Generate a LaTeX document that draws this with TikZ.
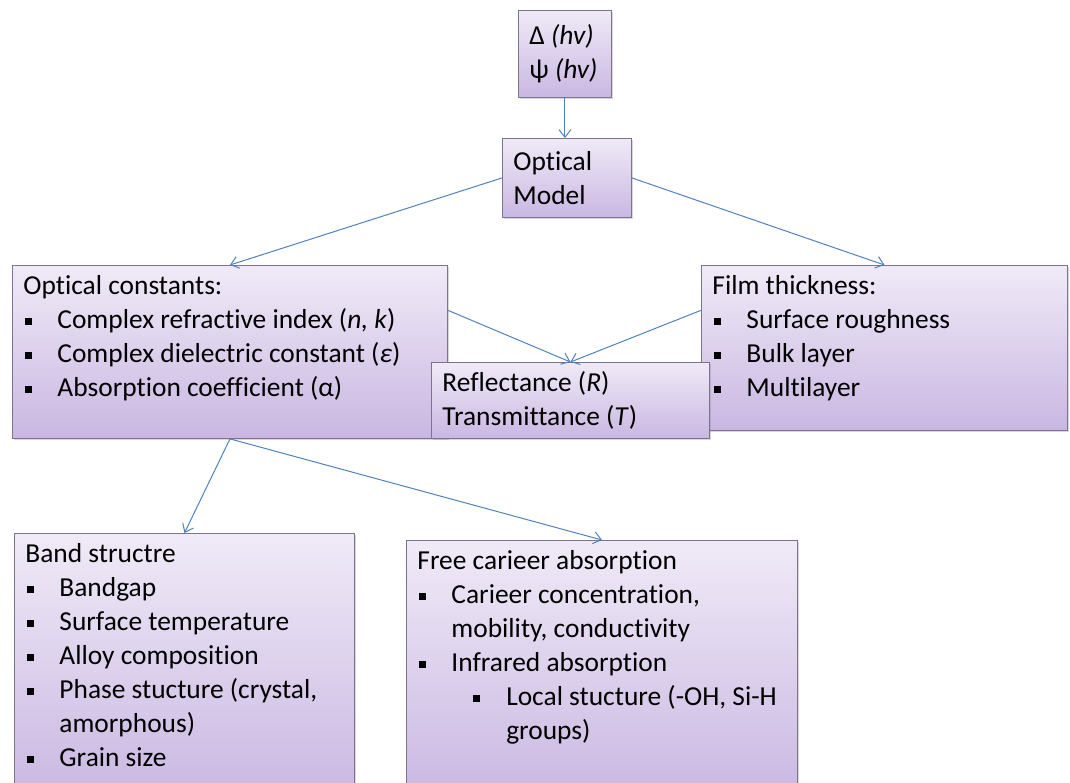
\documentclass[tikz,border=0pt]{standalone}
\usepackage{fontspec}
\setmainfont{Carlito}[Ligatures=NoCommon]
\usetikzlibrary{arrows.meta,shadows}

\definecolor{boxtop}{RGB}{240,234,247}
\definecolor{boxbot}{RGB}{201,183,226}
\definecolor{boxline}{RGB}{125,115,140}
\definecolor{linkblue}{RGB}{79,129,189}

\newcommand{\sqbul}{\rule[0.12em]{0.26em}{0.26em}}
\newcommand{\itm}{\makebox[1.24em][l]{\hspace{0.07em}\sqbul}}
\newcommand{\subitm}{\hspace*{2.04em}\makebox[1.2em][l]{\sqbul}}
\newcommand{\cont}{\hspace*{1.24em}}
\newcommand{\subcont}{\hspace*{3.24em}}
\newcommand{\boxbody}[3]{\parbox[c][#1][t]{#2}{\raggedright #3}}
\newcommand{\midbody}[3]{\parbox[c][#1][c]{#2}{\raggedright #3}}

\tikzset{
  panel/.style={draw=boxline, line width=0.6pt, top color=boxtop, bottom color=boxbot,
    anchor=north west, inner xsep=0.275cm, inner ysep=0.25cm,
    font=\fontsize{19.5}{24.2}\selectfont,
    drop shadow={shadow xshift=0.03cm, shadow yshift=-0.05cm, opacity=0.3}},
  link/.style={draw=linkblue, line width=0.7pt, ->}
}

\begin{document}
\begin{tikzpicture}[x=0.025cm, y=-0.025cm, >={Straight Barb[length=1.9mm,width=3mm]}]
        % Fix the frame
        \useasboundingbox (0,0) rectangle (1070,782);
        \fill[white] (0,0) rectangle (1070,782);
        \clip (0,0) rectangle (1070,782);

        % Draw the top boxes
        \node[panel] (dpsi) at (518,10) {\midbody{1.675cm}{1.775cm}{%
            Δ \textit{(hv)}\\
            ψ \textit{(hv)}}};
        \node[panel] (model) at (502,138) {\midbody{1.475cm}{2.675cm}{%
            Optical\\
            Model}};

        % Draw the middle boxes
        \node[panel] (const) at (12,265) {\boxbody{3.825cm}{10.325cm}{%
            Optical constants:\\
            \itm Complex refractive index (\textit{n, k})\\
            \itm Complex dielectric constant (\textit{ε})\\
            \itm Absorption coefficient (α)}};
        \node[panel] (film) at (701,265) {\boxbody{3.625cm}{8.6cm}{%
            Film thickness:\\
            \itm Surface roughness\\
            \itm Bulk layer\\
            \itm Multilayer}};
        \node[panel] (refl) at (431,362) {\midbody{1.4cm}{6.4cm}{%
            Reflectance (\textit{R})\\
            Transmittance (\textit{T})}};

        % Draw the bottom boxes
        \node[panel] (band) at (14,533) {\boxbody{6.175cm}{7.95cm}{%
            Band structre\\
            \itm Bandgap\\
            \itm Surface temperature\\
            \itm Alloy composition\\
            \itm Phase stucture (crystal,\\
            \cont amorphous)\\
            \itm Grain size}};
        \node[panel] (fca) at (406,540) {\boxbody{6.0cm}{9.225cm}{%
            Free carieer absorption\\
            \itm Carieer concentration,\\
            \cont mobility, conductivity\\
            \itm Infrared absorption\\
            \subitm Local stucture (-OH, Si-H\\
            \subcont groups)}};

        % Draw the arrows
        \draw[link] (dpsi.south) -- (dpsi.south |- model.north);
        \draw[link] (model.west) -- (const.north);
        \draw[link] (model.east) -- (film.north);
        \draw[link] ([yshift=1.04cm]const.east) -- (refl.north);
        \draw[link] ([yshift=0.94cm]film.west) -- (refl.north);
        \draw[link] (const.south) -- (band.north);
        \draw[link] (const.south) -- (fca.north);

    \end{tikzpicture}
\end{document}
